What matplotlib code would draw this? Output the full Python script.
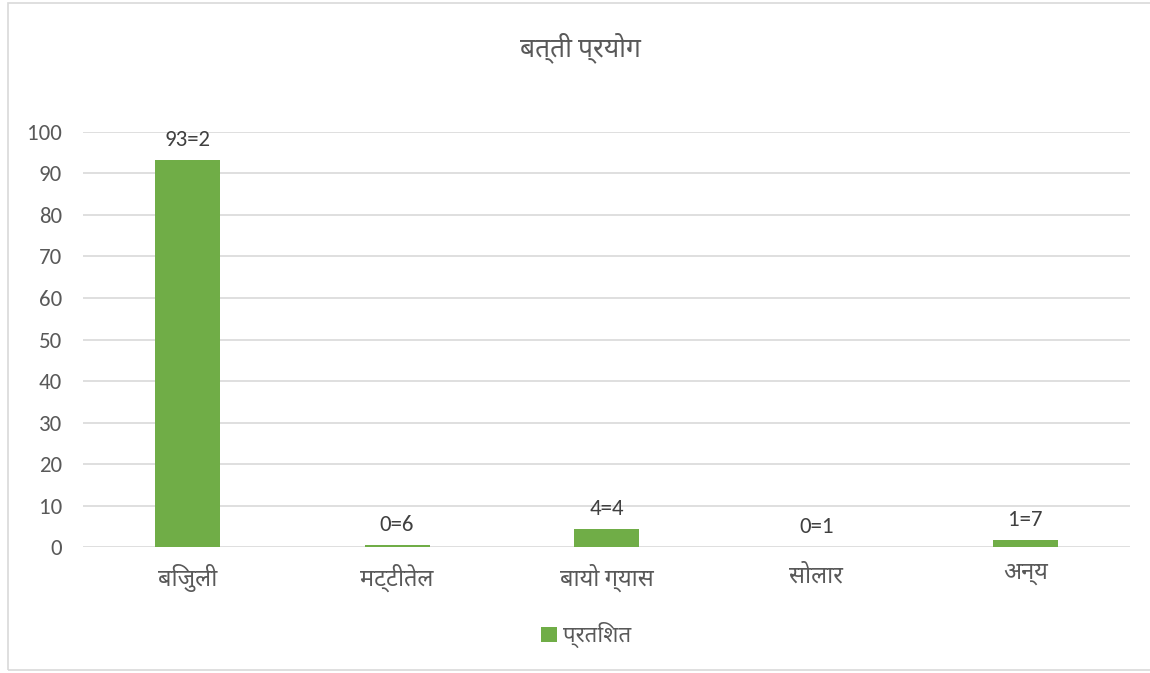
import matplotlib
matplotlib.use('Agg')
import matplotlib.pyplot as plt
from matplotlib.patches import Rectangle

# data
categories = ['बिजुली', 'मट्टीतेल', 'बायो ग्यास', 'सोलार', 'अन्य']
values = [93.2, 0.6, 4.4, 0.1, 1.7]
value_labels = ['93=2', '0=6', '4=4', '0=1', '1=7']
yticks = [0, 10, 20, 30, 40, 50, 60, 70, 80, 90, 100]

fonts = ['Carlito', 'Noto Sans', 'DejaVu Sans']
plt.rcParams['font.family'] = fonts
grey = '#595959'
green = '#70AD47'

fig = plt.figure(figsize=(11.5, 6.73), dpi=100)
ax = fig.add_axes([0.072, 0.187, 0.911, 0.617])

x = range(len(categories))
bars = ax.bar(x, values, color=green, width=0.31, zorder=3, label='प्रतिशत')

for b, lab in zip(bars, value_labels):
    ax.annotate(lab, (b.get_x() + b.get_width() / 2, b.get_height()),
                xytext=(0, 7), textcoords='offset points',
                ha='center', va='bottom', fontsize=16.5, color='#404040')

ax.set_xlim(-0.5, len(categories) - 0.5)
ax.set_ylim(0, 100)
ax.set_yticks(yticks)
ax.set_xticks(list(x))
ax.set_xticklabels(categories, fontsize=17, color=grey)
ax.tick_params(axis='y', labelsize=16.5, labelcolor=grey, length=0, pad=15)
ax.tick_params(axis='x', length=0, pad=12)
ax.grid(axis='y', color='#D9D9D9', linewidth=1.2, zorder=0)
for s in ax.spines.values():
    s.set_visible(False)

fig.text(0.505, 0.93, 'बत्ती प्रयोग', ha='center', va='center',
         fontsize=19, color=grey, fontweight='bold')

leg = fig.legend(loc='center', bbox_to_anchor=(0.51, 0.056), frameon=False,
                 fontsize=16, handlelength=0.7, handleheight=0.7,
                 handletextpad=0.3)
for t in leg.get_texts():
    t.set_color(grey)

# chart border
fig.patches.append(Rectangle((8 / 1150, 3 / 673), 1.0, 667 / 673,
                             transform=fig.transFigure, fill=False,
                             edgecolor='#D9D9D9', linewidth=1.2))

fig.savefig('out.png')
